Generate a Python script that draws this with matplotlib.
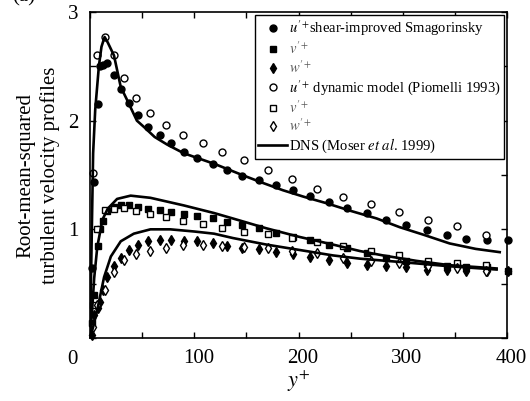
import matplotlib
matplotlib.use('Agg')
import matplotlib.pyplot as plt
import matplotlib.transforms as mtransforms
from matplotlib.ticker import MultipleLocator

plt.rcParams['font.family'] = ['Liberation Serif', 'DejaVu Serif']
plt.rcParams['mathtext.fontset'] = 'stix'

# LES, shear-improved Smagorinsky (filled markers)
y_sis = [1.5, 3.8, 7.4, 9.3, 12.5, 16.7, 23, 30, 37.5, 46.5, 56, 67, 78, 90, 103, 117.6,
         131, 146, 162, 178, 195, 211.5, 229, 247, 266, 284, 303.5, 323, 342, 361, 381, 401]
u_sis = [0.64, 1.44, 2.15, 2.50, 2.51, 2.53, 2.42, 2.29, 2.16, 2.05, 1.94, 1.87, 1.79, 1.71, 1.66, 1.60,
         1.55, 1.49, 1.45, 1.41, 1.36, 1.31, 1.25, 1.20, 1.15, 1.09, 1.04, 0.99, 0.95, 0.91, 0.90, 0.90]
v_sis = [0.14, 0.40, 0.85, 1.00, 1.08, 1.17, 1.21, 1.22, 1.22, 1.21, 1.19, 1.18, 1.16, 1.14, 1.12, 1.10,
         1.07, 1.04, 1.01, 0.97, 0.93, 0.90, 0.86, 0.83, 0.78, 0.74, 0.71, 0.68, 0.66, 0.65, 0.65, 0.62]
w_sis = [0.03, 0.21, 0.28, 0.33, 0.44, 0.56, 0.66, 0.74, 0.81, 0.86, 0.89, 0.90, 0.90, 0.89, 0.89, 0.87,
         0.85, 0.83, 0.82, 0.79, 0.77, 0.75, 0.72, 0.69, 0.67, 0.66, 0.65, 0.63, 0.63, 0.62, 0.62, 0.62]

# LES, dynamic model (open markers)
y_dyn = [2.8, 7, 14, 23, 32.7, 44.5, 58, 73, 89.5, 108, 127, 148, 170.5, 194, 218, 243,
         270, 296, 324, 351.6, 380]
u_dyn = [1.52, 2.60, 2.77, 2.60, 2.39, 2.21, 2.07, 1.96, 1.87, 1.79, 1.71, 1.64, 1.55, 1.46, 1.37, 1.30,
         1.23, 1.16, 1.09, 1.03, 0.95]
v_dyn = [0.30, 1.00, 1.18, 1.19, 1.20, 1.17, 1.14, 1.11, 1.08, 1.05, 1.01, 0.98, 0.96, 0.92, 0.88, 0.85,
         0.80, 0.76, 0.71, 0.69, 0.67]
w_dyn = [0.10, 0.30, 0.44, 0.61, 0.72, 0.77, 0.80, 0.83, 0.86, 0.86, 0.85, 0.84, 0.83, 0.80, 0.78, 0.74,
         0.71, 0.69, 0.66, 0.64, 0.62]

# DNS (Moser et al. 1999)
y_dns_u = [0, 1.5, 3, 5, 8.5, 11, 14, 17, 20, 23, 29.5, 35.6, 45, 52, 62, 74, 90, 105, 120, 146,
           165, 185, 205, 227, 250, 275, 297, 320, 345, 370, 393]
dns_u = [0, 0.85, 1.7, 2.1, 2.5, 2.68, 2.77, 2.72, 2.66, 2.60, 2.31, 2.19, 2.00, 1.94, 1.85, 1.78, 1.70,
         1.65, 1.60, 1.50, 1.43, 1.36, 1.30, 1.24, 1.17, 1.10, 1.02, 0.95, 0.87, 0.82, 0.79]
y_dns_v = [0, 2, 4, 7, 12, 17, 26, 39, 58, 90, 119, 137, 169, 201, 233, 259, 281, 313, 345, 390]
dns_v = [0, 0.25, 0.55, 0.84, 1.09, 1.19, 1.28, 1.31, 1.29, 1.22, 1.15, 1.10, 1.01, 0.93, 0.86, 0.80,
         0.76, 0.71, 0.67, 0.64]
y_dns_w = [0, 3, 7, 13.5, 20, 29.5, 42, 58, 77, 100, 119, 137, 169, 201, 233, 259, 297, 345, 390]
dns_w = [0, 0.10, 0.26, 0.56, 0.75, 0.89, 0.96, 1.00, 1.00, 0.98, 0.96, 0.92, 0.86, 0.81, 0.76, 0.73,
         0.70, 0.66, 0.63]

fig = plt.figure(figsize=(5.30, 4.01), dpi=100)
ax = fig.add_axes([90/530, 63/401, 417/530, 326/401])

mk = dict(linestyle='none', color='black', clip_on=False)
ax.plot(y_sis, u_sis, marker='o', ms=5, label=r"$u'^{+}$shear-improved Smagorinsky", **mk)
ax.plot(y_sis, v_sis, marker='s', ms=4.2, label=r"$v'^{+}$", **mk)
ax.plot(y_sis, w_sis, marker='d', ms=5.5, label=r"$w'^{+}$", **mk)
ax.plot(y_dyn, u_dyn, marker='o', ms=5, mfc='white', mew=1.0, label=r"$u'^{+}$ dynamic model (Piomelli 1993)", **mk)
ax.plot(y_dyn, v_dyn, marker='s', ms=4.2, mfc='white', mew=1.0, label=r"$v'^{+}$", **mk)
ax.plot(y_dyn, w_dyn, marker='d', ms=5.5, mfc='white', mew=1.0, label=r"$w'^{+}$", **mk)
ax.plot(y_dns_u, dns_u, color='black', lw=1.9, label=r"DNS (Moser $et\ al$. 1999)")
ax.plot(y_dns_v, dns_v, color='black', lw=1.9)
ax.plot(y_dns_w, dns_w, color='black', lw=1.9)

ax.set_xlim(0, 400)
ax.set_ylim(0, 3)
ax.xaxis.set_major_locator(MultipleLocator(100))
ax.xaxis.set_minor_locator(MultipleLocator(50))
ax.yaxis.set_major_locator(MultipleLocator(1))
ax.yaxis.set_minor_locator(MultipleLocator(0.5))
ax.tick_params(which='both', direction='in', top=True, right=True, length=4.5, width=1)
ax.tick_params(labelsize=15, pad=8)
ax.set_xticks([0, 100, 200, 300, 400])
ax.set_xticklabels(['', '100', '200', '300', '400'])
ax.set_yticks([0, 1, 2, 3])
ax.set_yticklabels(['', '1', '2', '3'])
shift = mtransforms.ScaledTranslation(4/100, 0, fig.dpi_scale_trans)
for lab in ax.get_xticklabels():
    lab.set_transform(lab.get_transform() + shift)
ax.text(-0.041, -0.037, '0', transform=ax.transAxes, ha='center', va='top', fontsize=15)
for s in ax.spines.values():
    s.set_linewidth(1.2)

ax.set_xlabel(r"$y^{+}$", fontsize=16, labelpad=0)
ax.set_ylabel("Root-mean-squared\nturbulent velocity profiles", fontsize=15, linespacing=1.3, labelpad=6)

leg = ax.legend(loc='upper right', fontsize=10.5, frameon=True, fancybox=False, framealpha=1,
                edgecolor='black', borderpad=0.25, labelspacing=0.15, handlelength=2.0,
                handletextpad=0.1, borderaxespad=0.2)
leg.get_frame().set_linewidth(1.0)
for i in (1, 2, 4, 5):
    leg.get_texts()[i].set_color('#555555')

fig.text(12/530, 1 - 1/401, '(a)', fontsize=15, va='baseline')

fig.savefig('out.png', dpi=100)
